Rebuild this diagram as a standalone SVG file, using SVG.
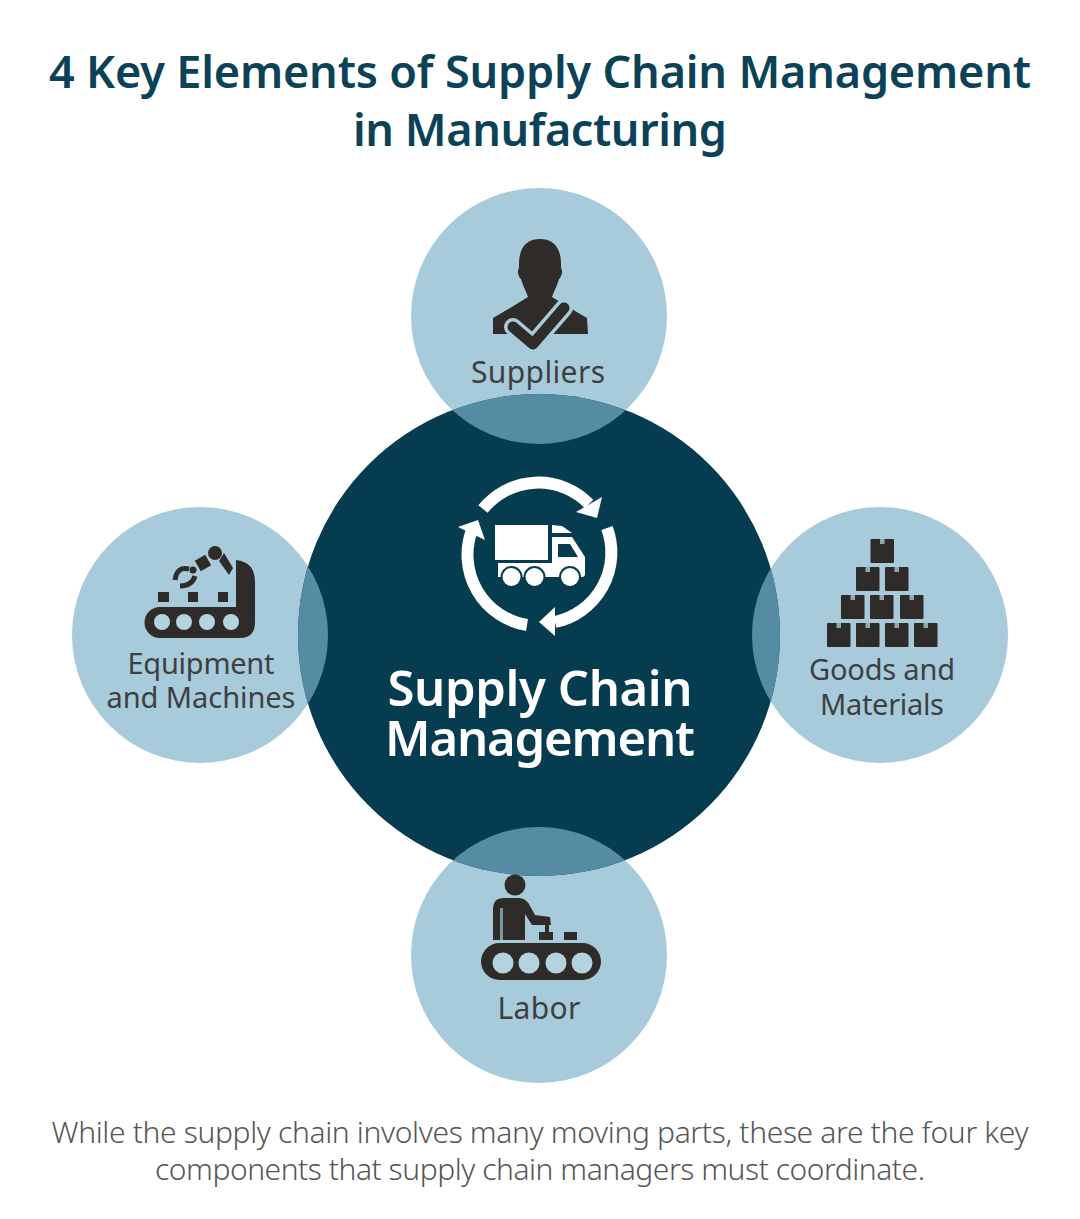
<svg xmlns="http://www.w3.org/2000/svg" width="1080" height="1219" viewBox="0 0 1080 1219">
<style>
text{font-family:"Noto Sans","Open Sans","Liberation Sans",sans-serif;text-anchor:middle}
.title{font-size:45px;font-weight:600;fill:#0b4257}
.label{font-size:30px;fill:#3f3f3f}
.hub{font-size:49px;font-weight:600;fill:#fff}
.foot{font-size:30px;font-weight:300;fill:#555}
.sat{fill:#a8cbdc}
.lap{fill:#568ca3}
.ink{fill:#2f2b29}
.pale{fill:#b4d3e0}
.wh{fill:#fff}
.ring{fill:none;stroke:#fff;stroke-width:12}
</style>
<defs>
<clipPath id="hubclip"><circle cx="539" cy="635" r="241"/></clipPath>
<g id="box"><rect x="0" y="0" width="23.500" height="24" rx="1" class="ink"/><rect x="9.500" y="0" width="4.500" height="5" fill="#8fa9b4"/></g>
</defs>
<rect width="1080" height="1219" fill="#fff"/>
<g id="title">
<text class="title" x="540" y="88" textLength="982">4 Key Elements of Supply Chain Management</text>
<text class="title" x="540" y="146" textLength="374">in Manufacturing</text>
</g>
<g id="connectors"></g>
<g id="node-suppliers">
<circle class="sat" cx="539" cy="316" r="128"/>
<path class="ink" d="M519 264C519 247 527 239 540 239C553 239 561 247 561 264L561 268C563 271 562 276 559 279C557 286 554 291 552 297L565 305L587 318L588 334L493 334L493 318L515 305L528 297C526 291 523 286 521 279C518 276 517 271 519 268Z"/>
<path d="M513 327L533 344L564 308" fill="none" stroke="#a8cbdc" stroke-width="18" stroke-linecap="round" stroke-linejoin="round"/>
<path d="M513 327L533 344L564 308" fill="none" stroke="#2f2b29" stroke-width="11" stroke-linecap="round" stroke-linejoin="round"/>
<text class="label" x="538" y="383" textLength="134">Suppliers</text>
</g>
<g id="node-equipment">
<circle class="sat" cx="200" cy="635" r="128"/>
<path class="ink" d="M236 560Q255 562 255 582L255 622Q255 638 240 638L160 638A15.500 15.500 0 0 1 160 607L236 607Z"/>
<circle class="pale" cx="162" cy="622" r="8"/><circle class="pale" cx="184" cy="622" r="8"/><circle class="pale" cx="207" cy="622" r="8"/><circle class="pale" cx="231" cy="622" r="8"/>
<rect class="ink" x="158" y="592" width="11" height="10"/><rect class="ink" x="188" y="592" width="10" height="10"/><rect class="ink" x="218" y="592" width="10" height="10"/>
<circle class="ink" cx="215" cy="553" r="7"/>
<path class="ink" d="M224 553L233 568L229 575L219 561Z"/>
<rect class="ink" x="197" y="557" width="12" height="12" transform="rotate(-30 203 563)"/>
<circle class="ink" cx="193" cy="570" r="3.500"/>
<path d="M189 569Q177 566 175 580M195 576Q192 586 180 586" fill="none" stroke="#2f2b29" stroke-width="5"/>
<text class="label" x="201" y="674" textLength="147" style="font-size:29px">Equipment</text>
<text class="label" x="201" y="708" textLength="189" style="font-size:29px">and Machines</text>
</g>
<g id="node-goods">
<circle class="sat" cx="880" cy="635" r="128"/>
<use href="#box" x="870.500" y="539"/>
<use href="#box" x="856" y="567"/><use href="#box" x="885" y="567"/>
<use href="#box" x="841" y="595"/><use href="#box" x="870" y="595"/><use href="#box" x="900" y="595"/>
<use href="#box" x="827" y="623"/><use href="#box" x="856" y="623"/><use href="#box" x="885" y="623"/><use href="#box" x="914" y="623"/>
<text class="label" x="882" y="680" textLength="146" style="font-size:29px">Goods and</text>
<text class="label" x="882" y="715" textLength="124" style="font-size:29px">Materials</text>
</g>
<g id="node-labor">
<circle class="sat" cx="539" cy="955" r="128"/>
</g>
<g id="node-hub">
<circle cx="539" cy="635" r="241" fill="#053c50"/>
<g clip-path="url(#hubclip)">
<circle class="lap" cx="539" cy="316" r="128"/>
<circle class="lap" cx="200" cy="635" r="128"/>
<circle class="lap" cx="880" cy="635" r="128"/>
<circle class="lap" cx="539" cy="955" r="128"/>
</g>
<path class="ring" d="M483 509A71 71 0 0 1 589 504"/>
<path class="ring" d="M607 528A71 71 0 0 1 555 622"/>
<path class="ring" d="M527 625A71 71 0 0 1 472 530"/>
<path class="wh" d="M602 497L597 518L576 512Z"/>
<path class="wh" d="M555 607L539 622L555 636Z"/>
<path class="wh" d="M458 527L478 520L485 540Z"/>
<rect class="wh" x="495" y="525" width="53" height="35"/>
<path class="wh" d="M552 525L562 526L572 533L552 533Z"/>
<path class="wh" d="M552 537L572 537L585 557L585 574Q585 577 582 577L498 577L498 563L552 563Z"/>
<path fill="#053c50" d="M558 544L570 544L578 557L558 557Z"/>
<g>
<circle cx="511.500" cy="577" r="11" fill="#053c50"/><circle cx="534.500" cy="577" r="11" fill="#053c50"/><circle cx="570" cy="577" r="11" fill="#053c50"/>
<circle class="wh" cx="511.500" cy="577" r="9"/><circle class="wh" cx="534.500" cy="577" r="9"/><circle class="wh" cx="570" cy="577" r="9"/>
</g>
<text class="hub" x="540" y="706" textLength="305">Supply Chain</text>
<text class="hub" x="540" y="756" textLength="310">Management</text>
</g>
<g id="labor-icon">
<circle class="ink" cx="515" cy="885" r="10.500"/>
<path class="ink" d="M493 940L493 909Q493 898 504 898L519 898Q526 898 530 906L535 915L550 917L551 925L532 925L525 914L525 940Z"/>
<rect x="500" y="908" width="3" height="32" fill="#7c97a3"/>
<rect class="ink" x="545" y="924" width="4" height="8"/>
<rect class="ink" x="539" y="932" width="14" height="8"/><rect class="ink" x="564" y="932" width="13" height="8"/>
<rect class="ink" x="481" y="943" width="120" height="37" rx="18.500"/>
<circle class="pale" cx="503" cy="963" r="10.500"/><circle class="pale" cx="529" cy="963" r="10.500"/><circle class="pale" cx="556" cy="963" r="10.500"/><circle class="pale" cx="582" cy="963" r="10.500"/>
<text class="label" x="539" y="1019" textLength="83">Labor</text>
</g>
<g id="caption">
<text class="foot" x="540" y="1143" textLength="977">While the supply chain involves many moving parts, these are the four key</text>
<text class="foot" x="540" y="1180" textLength="770">components that supply chain managers must coordinate.</text>
</g>
</svg>
